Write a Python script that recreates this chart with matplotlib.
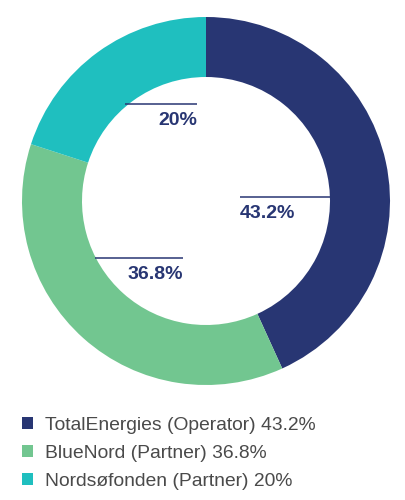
import matplotlib.pyplot as plt

names = ["TotalEnergies (Operator)", "BlueNord (Partner)", "Nordsøfonden (Partner)"]
shares = [43.2, 36.8, 20.0]
share_labels = ["43.2%", "36.8%", "20%"]
colors = ["#283673", "#72c690", "#1fbfbf"]

fig = plt.figure(figsize=(4.06, 5.0), dpi=100)
ax = fig.add_axes([0, 0, 1, 1])

wedges, _ = ax.pie(shares, colors=colors, startangle=90, counterclock=False,
                   center=(206, 299), radius=184,
                   wedgeprops=dict(width=60, linewidth=0))
ax.set_xlim(0, 406)
ax.set_ylim(0, 500)
ax.set_aspect("equal")
ax.axis("off")

navy = "#283673"
# label lines + values (pixel layout, y measured from bottom)
spots = [
    (240, 330, 303, "left"),   # 43.2%
    (95, 183, 242, "right"),   # 36.8%
    (125, 197, 396, "right"),  # 20%
]
for (x0, x1, y, ha), lab in zip(spots, share_labels):
    ax.plot([x0, x1], [y, y], color=navy, lw=1.1, solid_capstyle="butt")
    tx = x0 if ha == "left" else x1
    ax.text(tx, y - 8, lab, ha=ha, va="top", fontsize=14, fontweight="bold",
            color=navy, family="Liberation Sans")

leg_labels = [f"{n} {l}" for n, l in zip(names, share_labels)]
leg = ax.legend(wedges, leg_labels, loc="upper left", bbox_to_anchor=(0.054, 0.166),
                bbox_transform=fig.transFigure, frameon=False,
                prop=dict(family="Liberation Sans", size=13.9),
                handlelength=0.57, handleheight=0.57, handletextpad=0.62,
                labelspacing=0.57, borderpad=0, borderaxespad=0)
for t in leg.get_texts():
    t.set_color("#4a4a4a")

fig.savefig("out.png", dpi=100)
